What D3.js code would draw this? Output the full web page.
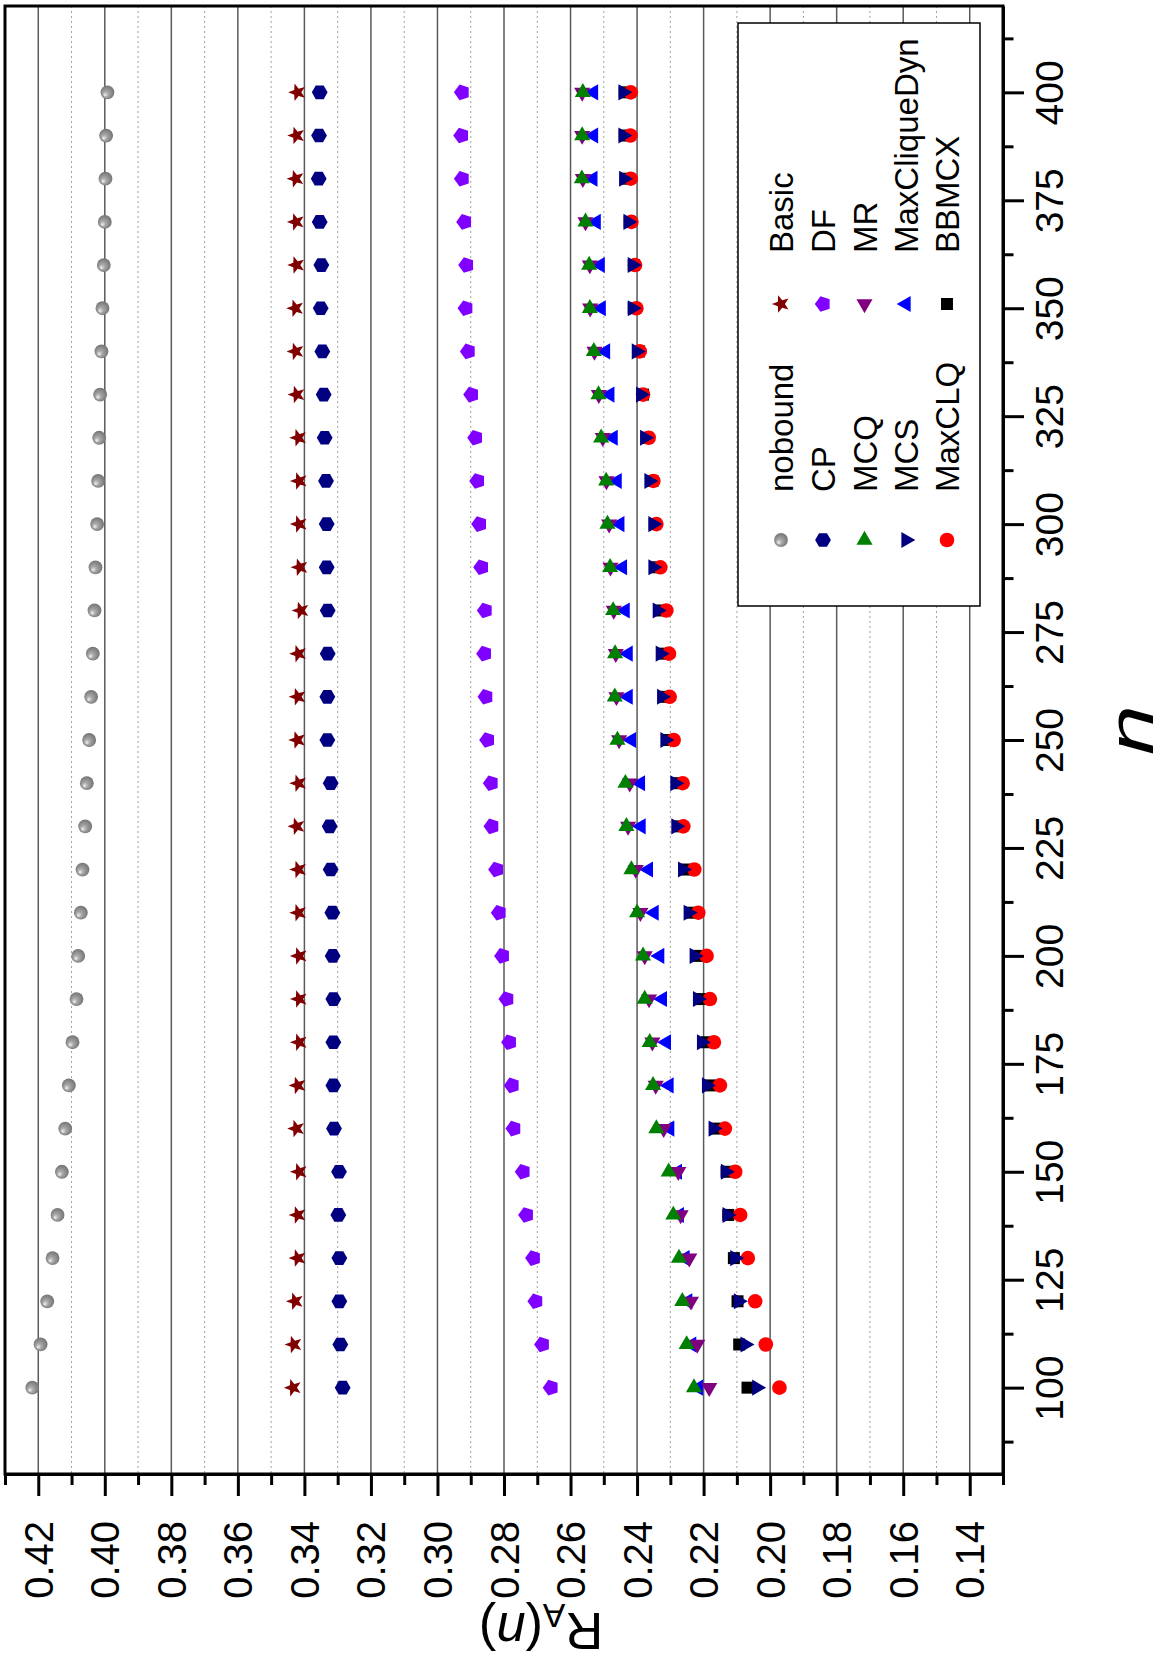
<!DOCTYPE html>
<html>
<head>
<meta charset="utf-8">
<script src="https://cdn.jsdelivr.net/npm/d3@7"></script>
<style>
  body { margin: 0; background: #fff; }
  svg { display: block; }
  text { font-family: "Liberation Sans", Arial, sans-serif; }
</style>
</head>
<body>
<div id="chart"></div>
<script>
// n values (the figure is drawn turned a quarter turn: n runs upward on the right)
var nValues = [100, 110, 120, 130, 140, 150, 160, 170, 180, 190, 200, 210, 220, 230, 240, 250,
               260, 270, 280, 290, 300, 310, 320, 330, 340, 350, 360, 370, 380, 390, 400];

var nobound = [0.4218, 0.4193, 0.4173, 0.4157, 0.4142, 0.4129, 0.4119, 0.4108, 0.4097, 0.4085, 0.4080,
               0.4072, 0.4067, 0.4059, 0.4054, 0.4047, 0.4041, 0.4036, 0.4031, 0.4028, 0.4023, 0.4020,
               0.4017, 0.4014, 0.4010, 0.4007, 0.4003, 0.4000, 0.3998, 0.3996, 0.3992];
var basic   = [0.3434, 0.3432, 0.3428, 0.3420, 0.3420, 0.3416, 0.3424, 0.3420, 0.3416, 0.3416, 0.3416,
               0.3418, 0.3418, 0.3423, 0.3418, 0.3421, 0.3420, 0.3418, 0.3411, 0.3414, 0.3416, 0.3416,
               0.3418, 0.3423, 0.3426, 0.3427, 0.3424, 0.3425, 0.3426, 0.3424, 0.3421];
var cp      = [0.3285, 0.3292, 0.3295, 0.3295, 0.3298, 0.3296, 0.3311, 0.3313, 0.3313, 0.3313, 0.3315,
               0.3316, 0.3321, 0.3324, 0.3321, 0.3331, 0.3331, 0.3330, 0.3330, 0.3333, 0.3333, 0.3335,
               0.3339, 0.3342, 0.3346, 0.3351, 0.3349, 0.3354, 0.3357, 0.3356, 0.3354];
var df      = [0.2659, 0.2685, 0.2705, 0.2712, 0.2733, 0.2743, 0.2771, 0.2776, 0.2784, 0.2792, 0.2805,
               0.2815, 0.2823, 0.2837, 0.2839, 0.2850, 0.2855, 0.2859, 0.2857, 0.2868, 0.2874, 0.2880,
               0.2886, 0.2898, 0.2908, 0.2915, 0.2913, 0.2919, 0.2926, 0.2928, 0.2926];
var mcq     = [0.2229, 0.2251, 0.2264, 0.2274, 0.2291, 0.2305, 0.2342, 0.2352, 0.2362, 0.2377, 0.2382,
               0.2400, 0.2417, 0.2432, 0.2435, 0.2459, 0.2467, 0.2466, 0.2472, 0.2481, 0.2489, 0.2493,
               0.2508, 0.2516, 0.2530, 0.2542, 0.2544, 0.2555, 0.2566, 0.2565, 0.2563];
var mr      = [0.2183, 0.2219, 0.2238, 0.2243, 0.2269, 0.2276, 0.2320, 0.2344, 0.2354, 0.2364, 0.2377,
               0.2390, 0.2404, 0.2427, 0.2422, 0.2454, 0.2462, 0.2464, 0.2470, 0.2480, 0.2484, 0.2492,
               0.2503, 0.2515, 0.2528, 0.2541, 0.2542, 0.2555, 0.2563, 0.2565, 0.2565];
var mcs     = [0.2040, 0.2075, 0.2095, 0.2106, 0.2129, 0.2134, 0.2171, 0.2191, 0.2206, 0.2218, 0.2228,
               0.2246, 0.2263, 0.2283, 0.2286, 0.2316, 0.2326, 0.2330, 0.2339, 0.2352, 0.2352, 0.2364,
               0.2377, 0.2389, 0.2402, 0.2414, 0.2414, 0.2427, 0.2440, 0.2442, 0.2442];
var maxCliqueDyn = [0.2216, 0.2236, 0.2248, 0.2256, 0.2273, 0.2279, 0.2302, 0.2304, 0.2312, 0.2324, 0.2332,
               0.2349, 0.2366, 0.2388, 0.2390, 0.2417, 0.2427, 0.2427, 0.2436, 0.2444, 0.2452, 0.2460,
               0.2472, 0.2482, 0.2495, 0.2508, 0.2511, 0.2523, 0.2533, 0.2531, 0.2531];
var maxCLQ  = [0.1972, 0.2013, 0.2045, 0.2067, 0.2090, 0.2105, 0.2136, 0.2151, 0.2169, 0.2181, 0.2191,
               0.2216, 0.2228, 0.2261, 0.2263, 0.2290, 0.2302, 0.2304, 0.2312, 0.2330, 0.2342, 0.2351,
               0.2365, 0.2382, 0.2392, 0.2402, 0.2406, 0.2417, 0.2419, 0.2420, 0.2419];
var bbmcx   = [0.2068, 0.2093, 0.2098, 0.2109, 0.2126, 0.2131, 0.2166, 0.2181, 0.2191, 0.2206, 0.2216,
               0.2236, 0.2251, 0.2276, 0.2276, 0.2307, 0.2317, 0.2320, 0.2327, 0.2342, 0.2347, 0.2354,
               0.2370, 0.2382, 0.2394, 0.2410, 0.2410, 0.2422, 0.2434, 0.2437, 0.2437];

var rMajorTicks = [0.42, 0.40, 0.38, 0.36, 0.34, 0.32, 0.30, 0.28, 0.26, 0.24, 0.22, 0.20, 0.18, 0.16, 0.14];
var rMinorTicks = [0.43, 0.41, 0.39, 0.37, 0.35, 0.33, 0.31, 0.29, 0.27, 0.25, 0.23, 0.21, 0.19, 0.17, 0.15, 0.13];
var nMajorTicks = [100, 125, 150, 175, 200, 225, 250, 275, 300, 325, 350, 375, 400];
var nMinorTicks = [87.5, 112.5, 137.5, 162.5, 187.5, 212.5, 237.5, 262.5, 287.5, 312.5, 337.5, 362.5, 387.5, 412.5];

var W = 1176, H = 1668;
var plotLeft = 5, plotRight = 1003, plotTop = 6, plotBottom = 1474;

var svg = d3.select("#chart").append("svg")
    .attr("width", W).attr("height", H);

var defs = svg.append("defs");
var grad = defs.append("radialGradient").attr("id", "sphere")
    .attr("cx", "50%").attr("cy", "50%").attr("r", "55%")
    .attr("fx", "30%").attr("fy", "72%");
grad.append("stop").attr("offset", "0%").attr("stop-color", "#f4f4f4");
grad.append("stop").attr("offset", "35%").attr("stop-color", "#a8a8a8");
grad.append("stop").attr("offset", "100%").attr("stop-color", "#6e6e6e");

var x = d3.scaleLinear().domain([0.43, 0.13]).range([plotLeft, plotRight]);
var y = d3.scaleLinear().domain([80, 420]).range([plotBottom, plotTop]);

// grid
svg.append("g").selectAll("line").data(rMinorTicks.slice(1, -1)).join("line")
    .attr("x1", d => x(d)).attr("x2", d => x(d))
    .attr("y1", plotTop).attr("y2", plotBottom)
    .attr("stroke", "#a0a0a0").attr("stroke-width", 1).attr("stroke-dasharray", "2,3");
svg.append("g").selectAll("line").data(rMajorTicks).join("line")
    .attr("x1", d => x(d)).attr("x2", d => x(d))
    .attr("y1", plotTop).attr("y2", plotBottom)
    .attr("stroke", "#5a5a5a").attr("stroke-width", 1.5);

// marker shapes, in screen orientation
function poly(k, r, a0) {
    var pts = d3.range(k).map(function (i) {
        var a = a0 + i * 2 * Math.PI / k;
        return [r * Math.cos(a), r * Math.sin(a)];
    });
    return "M" + pts.map(p => p[0].toFixed(2) + "," + p[1].toFixed(2)).join("L") + "Z";
}
function star(ro, ri, a0) {
    var pts = d3.range(10).map(function (i) {
        var a = a0 + i * Math.PI / 5, r = i % 2 ? ri : ro;
        return [r * Math.cos(a), r * Math.sin(a)];
    });
    return "M" + pts.map(p => p[0].toFixed(2) + "," + p[1].toFixed(2)).join("L") + "Z";
}
var shapes = {
    sphere:   d3.symbol(d3.symbolCircle, Math.PI * 6.9 * 6.9)(),
    star:     star(9.2, 3.9, Math.PI),
    hexagon:  poly(6, 7.9, 0),
    pentagon: poly(5, 8.2, Math.PI),
    triUp:    poly(3, 9.3, -Math.PI / 2),
    triDown:  poly(3, 9.3, Math.PI / 2),
    triLeft:  poly(3, 9.3, Math.PI),
    triRight: poly(3, 9.3, 0),
    square:   "M-6,-6H6V6H-6Z",
    circle:   d3.symbol(d3.symbolCircle, Math.PI * 7.3 * 7.3)()
};

var series = [
    { name: "nobound", values: nobound, shape: "sphere", color: "url(#sphere)" },
    { name: "Basic", values: basic, shape: "star", color: "#800000" },
    { name: "CP", values: cp, shape: "hexagon", color: "#000080" },
    { name: "DF", values: df, shape: "pentagon", color: "#8000ff" },
    { name: "MCQ", values: mcq, shape: "triUp", color: "#008000" },
    { name: "MR", values: mr, shape: "triDown", color: "#800080" },
    { name: "MCS", values: mcs, shape: "triRight", color: "#000080" },
    { name: "MaxCliqueDyn", values: maxCliqueDyn, shape: "triLeft", color: "#0000ff" },
    { name: "MaxCLQ", values: maxCLQ, shape: "circle", color: "#ff0000" },
    { name: "BBMCX", values: bbmcx, shape: "square", color: "#000000" }
];
var drawOrder = ["BBMCX", "MaxCliqueDyn", "MR", "DF", "Basic", "MaxCLQ", "MCS", "MCQ", "CP", "nobound"];

var marks = svg.append("g");
drawOrder.forEach(function (name) {
    var s = series.find(d => d.name == name);
    marks.append("g").selectAll("path").data(s.values).join("path")
        .attr("d", shapes[s.shape])
        .attr("transform", (d, i) => "translate(" + x(d) + "," + y(nValues[i]) + ")")
        .attr("fill", s.color);
});

// frame
svg.append("rect").attr("x", plotLeft).attr("y", plotTop)
    .attr("width", plotRight - plotLeft).attr("height", plotBottom - plotTop)
    .attr("fill", "none").attr("stroke", "#000").attr("stroke-width", 3);

// R axis (bottom)
var rAxis = svg.append("g").attr("transform", "translate(0," + plotBottom + ")")
    .call(d3.axisBottom(x).tickValues(rMajorTicks).tickSize(22).tickSizeOuter(0)
        .tickFormat(d3.format(".2f")));
svg.append("g").attr("transform", "translate(0," + plotBottom + ")")
    .call(d3.axisBottom(x).tickValues(rMinorTicks).tickSize(11).tickSizeOuter(0).tickFormat(""))
    .select(".domain").remove();

// n axis (right)
var nAxis = svg.append("g").attr("transform", "translate(" + plotRight + ",0)")
    .call(d3.axisRight(y).tickValues(nMajorTicks).tickSize(21).tickSizeOuter(0));
svg.append("g").attr("transform", "translate(" + plotRight + ",0)")
    .call(d3.axisRight(y).tickValues(nMinorTicks).tickSize(10.5).tickSizeOuter(0).tickFormat(""))
    .select(".domain").remove();

svg.selectAll(".tick line").attr("stroke", "#000").attr("stroke-width", 3);
svg.selectAll(".domain").attr("stroke", "#000").attr("stroke-width", 3);

rAxis.selectAll("text")
    .attr("transform", "rotate(-90)")
    .attr("x", -47).attr("y", 0).attr("dy", "0.35em")
    .style("text-anchor", "end")
    .style("font-size", "40px").attr("fill", "#000")
    .style("font-family", "'Liberation Sans', Arial, sans-serif");

nAxis.selectAll("text")
    .attr("transform", "rotate(-90)")
    .attr("x", 0).attr("y", 60).attr("dy", 0)
    .style("text-anchor", "middle")
    .style("font-size", "39px").attr("fill", "#000")
    .style("font-family", "'Liberation Sans', Arial, sans-serif");

// axis titles
svg.append("text")
    .attr("transform", "translate(1153,730) rotate(-90) scale(1.4,1)")
    .attr("text-anchor", "middle")
    .style("font-size", "64px").style("font-style", "italic")
    .text("n");

var rt = svg.append("text")
    .attr("transform", "translate(541,1613) rotate(180) scale(1.05,1.05)")
    .attr("text-anchor", "middle")
    .style("font-size", "50px");
rt.append("tspan").text("R");
rt.append("tspan").attr("dy", 9).style("font-size", "32px").text("A");
rt.append("tspan").attr("dy", -9).text("(");
rt.append("tspan").style("font-style", "italic").text("n");
rt.append("tspan").text(")");

// legend
var legCols = [["nobound", "CP", "MCQ", "MCS", "MaxCLQ"], ["Basic", "DF", "MR", "MaxCliqueDyn", "BBMCX"]];
var legRowX = [781, 823, 864.5, 906, 947];
var legSymY = [540, 304];
var legTextY = [492, 253];

var legend = svg.append("g");
legend.append("rect").attr("x", 738).attr("y", 23).attr("width", 242).attr("height", 583)
    .attr("fill", "#fff").attr("stroke", "#000").attr("stroke-width", 1.5);

legCols.forEach(function (col, c) {
    col.forEach(function (name, r) {
        var s = series.find(d => d.name == name);
        legend.append("path")
            .attr("d", shapes[s.shape])
            .attr("transform", "translate(" + legRowX[r] + "," + legSymY[c] + ")")
            .attr("fill", s.color);
        legend.append("text")
            .attr("transform", "translate(" + (legRowX[r] + 12) + "," + legTextY[c] + ") rotate(-90)")
            .style("font-size", "33px")
            .text(name);
    });
});
</script>
</body>
</html>
